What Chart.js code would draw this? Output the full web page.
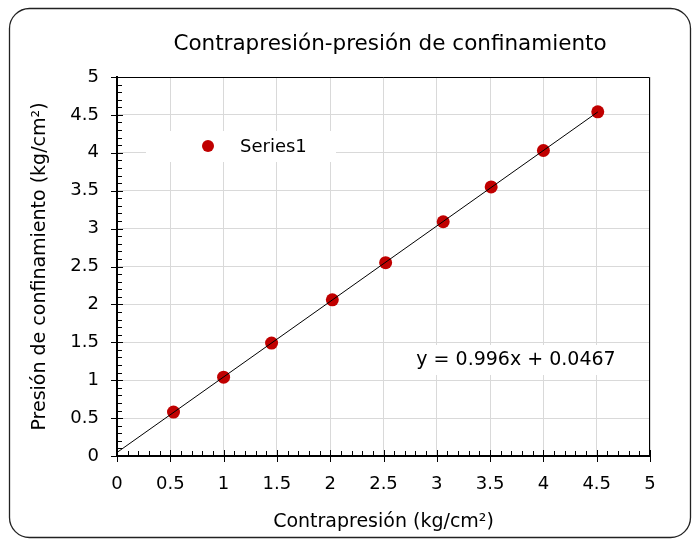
<!DOCTYPE html>
<html>
<head>
<meta charset="utf-8">
<script src="https://cdn.jsdelivr.net/npm/chart.js@4.4.1/dist/chart.umd.min.js"></script>
<style>
  html, body { margin: 0; padding: 0; background: #fff; }
  #wrap { width: 693px; height: 540px; }
</style>
</head>
<body>
<div id="wrap"><canvas id="grafico" width="693" height="540"></canvas></div>
<script>
// datos
const contrapresion = [0.53, 1.0, 1.45, 2.02, 2.52, 3.06, 3.51, 4.0, 4.51];
const confinamiento = [0.58, 1.04, 1.49, 2.06, 2.55, 3.09, 3.55, 4.03, 4.54];
const serieNombre = 'Series1';
const pendiente = 0.996;
const intercepto = 0.0467;
const tendenciaX = [0, 4.51];
const ecuacion = 'y = 0.996x + 0.0467';

const titulo = 'Contrapresión-presión de confinamiento';
const tituloX = 'Contrapresión (kg/cm²)';
const tituloY = 'Presión de confinamiento (kg/cm²)';
const fuente = '"DejaVu Sans", Verdana, sans-serif';

const puntos = contrapresion.map((x, i) => ({ x: x, y: confinamiento[i] }));
const tendencia = tendenciaX.map((x) => ({ x: x, y: pendiente * x + intercepto }));

const formato = (v) => String(Math.round(v * 10) / 10);

const adornos = {
  id: 'adornos',
  afterDraw(chart) {
    const ctx = chart.ctx;
    const area = chart.chartArea;
    const sx = chart.scales.x;
    const sy = chart.scales.y;
    ctx.save();

    // borde superior y derecho del area
    ctx.strokeStyle = '#000';
    ctx.lineWidth = 1;
    ctx.beginPath();
    ctx.moveTo(area.left, area.top + 0.5);
    ctx.lineTo(area.right - 0.5, area.top + 0.5);
    ctx.lineTo(area.right - 0.5, area.bottom);
    ctx.stroke();

    // marcas de los ejes
    for (let i = 0; i <= 50; i++) {
      const v = i / 10;
      const mayor = i % 5 === 0;
      const px = Math.round(sx.getPixelForValue(v)) + 0.5;
      ctx.beginPath();
      if (mayor) {
        ctx.moveTo(px, area.bottom - 6);
        ctx.lineTo(px, area.bottom + 6);
      } else {
        ctx.moveTo(px, area.bottom);
        ctx.lineTo(px, area.bottom - 5);
      }
      ctx.stroke();
      const py = Math.round(sy.getPixelForValue(v)) + 0.5;
      ctx.beginPath();
      if (mayor) {
        ctx.moveTo(area.left - 6, py);
        ctx.lineTo(area.left + 6, py);
      } else {
        ctx.moveTo(area.left, py);
        ctx.lineTo(area.left + 5, py);
      }
      ctx.stroke();
    }

    // titulo
    ctx.fillStyle = '#000';
    ctx.font = '21.5px ' + fuente;
    ctx.textAlign = 'center';
    ctx.textBaseline = 'middle';
    ctx.fillText(titulo, 390, 44);

    // leyenda
    const ds = chart.data.datasets[0];
    ctx.fillStyle = '#fff';
    ctx.fillRect(146, 131, 190, 31);
    ctx.fillStyle = ds.backgroundColor;
    ctx.beginPath();
    ctx.arc(208, 146, 6, 0, Math.PI * 2);
    ctx.fill();
    ctx.fillStyle = '#000';
    ctx.font = '18px ' + fuente;
    ctx.textAlign = 'left';
    ctx.fillText(ds.label, 240, 147);

    // ecuacion de la tendencia
    ctx.fillStyle = '#fff';
    ctx.fillRect(412, 345, 206, 30);
    ctx.fillStyle = '#000';
    ctx.font = '19px ' + fuente;
    ctx.textAlign = 'center';
    ctx.fillText(ecuacion, 516, 360);

    // marco exterior redondeado
    ctx.strokeStyle = '#222';
    ctx.lineWidth = 1.3;
    ctx.beginPath();
    ctx.roundRect(9.5, 8.5, 681, 529, 20);
    ctx.stroke();
    ctx.restore();
  }
};

new Chart(document.getElementById('grafico').getContext('2d'), {
  type: 'scatter',
  data: {
    datasets: [
      {
        label: serieNombre,
        data: puntos,
        backgroundColor: '#c00000',
        borderColor: '#c00000',
        borderWidth: 0,
        pointRadius: 6.5,
        pointHoverRadius: 6.5,
        order: 1,
      },
      {
        type: 'line',
        label: 'tendencia',
        data: tendencia,
        borderColor: '#000',
        borderWidth: 1,
        pointRadius: 0,
        fill: false,
        order: 0,
      },
    ],
  },
  options: {
    responsive: false,
    animation: false,
    layout: { padding: { left: 25, right: 43, top: 77, bottom: 3 } },
    plugins: {
      legend: { display: false },
      tooltip: { enabled: false },
      title: { display: false },
    },
    scales: {
      x: {
        type: 'linear',
        min: 0,
        max: 5,
        ticks: {
          stepSize: 0.5,
          color: '#000',
          font: { family: fuente, size: 18 },
          padding: 18,
          maxRotation: 0,
          callback: formato,
        },
        grid: { color: '#d9d9d9', lineWidth: 1, drawTicks: false },
        border: { color: '#000', width: 2 },
        title: {
          display: true,
          text: tituloX,
          color: '#000',
          font: { family: fuente, size: 19 },
        },
        afterFit(scale) { scale.height = 540 - 456 - 3; },
      },
      y: {
        type: 'linear',
        min: 0,
        max: 5,
        ticks: {
          stepSize: 0.5,
          color: '#000',
          font: { family: fuente, size: 18 },
          padding: 18,
          callback: formato,
        },
        grid: { color: '#d9d9d9', lineWidth: 1, drawTicks: false },
        border: { color: '#000', width: 2 },
        title: {
          display: true,
          text: tituloY,
          color: '#000',
          font: { family: fuente, size: 19 },
        },
        afterFit(scale) { scale.width = 117 - 25; },
      },
    },
  },
  plugins: [adornos],
});
</script>
</body>
</html>
